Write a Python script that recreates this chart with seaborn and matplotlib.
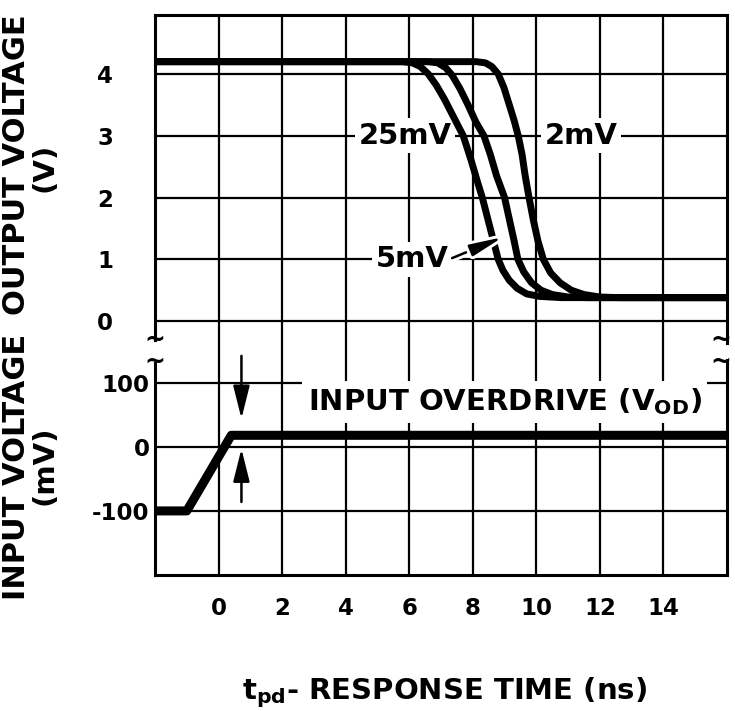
import numpy as np
import pandas as pd
import matplotlib
matplotlib.use("Agg")
import matplotlib.pyplot as plt
import matplotlib.patheffects as pe
import seaborn as sns

# ---------------- data ----------------
overdrives = ["25mV", "5mV", "2mV"]
t_25mv = [-2, 5.8, 6.1, 6.35, 6.6, 6.85, 7.1, 7.4, 7.7, 7.95, 8.15, 8.3, 8.45, 8.6, 8.8,
          8.95, 9.15, 9.4, 9.7, 10.1, 10.8, 16]
v_25mv = [4.2, 4.2, 4.18, 4.12, 4.0, 3.82, 3.6, 3.3, 3.0, 2.6, 2.25, 2.0, 1.7, 1.4, 1.0,
          0.82, 0.66, 0.53, 0.44, 0.4, 0.38, 0.38]
t_5mv = [-2, 6.6, 6.9, 7.15, 7.35, 7.6, 7.85, 8.1, 8.35, 8.55, 8.75, 9.0, 9.15, 9.3, 9.42,
         9.6, 9.85, 10.15, 10.5, 11.0, 11.6, 16]
v_5mv = [4.2, 4.2, 4.18, 4.1, 3.98, 3.76, 3.5, 3.22, 3.0, 2.7, 2.35, 2.0, 1.65, 1.3, 1.0,
         0.8, 0.62, 0.5, 0.43, 0.39, 0.38, 0.38]
t_2mv = [-2, 8.1, 8.4, 8.6, 8.8, 8.98, 9.15, 9.3, 9.43, 9.55, 9.65, 9.77, 9.9, 10.05, 10.22,
         10.45, 10.75, 11.1, 11.5, 12.0, 12.6, 16]
v_2mv = [4.2, 4.2, 4.18, 4.12, 4.0, 3.78, 3.5, 3.25, 3.0, 2.7, 2.35, 2.0, 1.65, 1.3, 1.0,
         0.78, 0.62, 0.5, 0.43, 0.39, 0.38, 0.38]

t_input = [-2, -1.0, 0.4, 16]
v_input = [-100, -100, 18, 18]

x_ticks = [0, 2, 4, 6, 8, 10, 12, 14]
out_ticks = [0, 1, 2, 3, 4]
in_ticks = [-100, 0, 100]

# ---------------- style ----------------
sns.set_theme(style="white")
plt.rcParams["font.family"] = ["DejaVu Sans"]
plt.rcParams["font.weight"] = "bold"
plt.rcParams["mathtext.default"] = "bf"
plt.rcParams["axes.unicode_minus"] = False
for k in ("text.color", "axes.labelcolor", "xtick.color", "ytick.color"):
    plt.rcParams[k] = "black"

fig = plt.figure(figsize=(7.35, 7.11), dpi=100)
L, W = 155 / 735, 572 / 735
ax_top = fig.add_axes([L, 1 - 352 / 711, W, (352 - 15) / 711])
ax_bot = fig.add_axes([L, 1 - 575 / 711, W, (575 - 352) / 711])

df_out = pd.concat([
    pd.DataFrame({"t": t_25mv, "v": v_25mv, "od": "25mV"}),
    pd.DataFrame({"t": t_5mv, "v": v_5mv, "od": "5mV"}),
    pd.DataFrame({"t": t_2mv, "v": v_2mv, "od": "2mV"}),
], ignore_index=True)
df_in = pd.DataFrame({"t": t_input, "v": v_input})

sns.lineplot(data=df_out, x="t", y="v", hue="od", hue_order=overdrives,
             palette=["black"] * 3, estimator=None, sort=False, lw=5,
             legend=False, ax=ax_top, zorder=4,
             solid_joinstyle="round", solid_capstyle="butt")
sns.lineplot(data=df_in, x="t", y="v", color="black", estimator=None,
             sort=False, lw=6.5, legend=False, ax=ax_bot, zorder=4,
             solid_joinstyle="round", solid_capstyle="butt")

for ax in (ax_top, ax_bot):
    ax.set_xlim(-2, 16)
    ax.set_xticks(x_ticks)
    ax.set_axisbelow(True)
    ax.grid(True, color="black", lw=1.6)
    ax.set_xlabel("")
    ax.set_ylabel("")
    for s in ax.spines.values():
        s.set_color("black")
        s.set_linewidth(2.2)
    ax.tick_params(length=0, labelsize=16.5, colors="black")

ax_top.set_ylim(-0.5, 4.955)
ax_top.set_yticks(out_ticks)
ax_top.tick_params(axis="y", pad=30)
ax_top.tick_params(axis="x", labelbottom=False)
ax_top.spines["bottom"].set_visible(False)
ax_top.spines["left"].set_bounds(-0.31, 4.955)
ax_top.spines["right"].set_bounds(-0.36, 4.955)

ax_bot.set_ylim(-200, 148)
ax_bot.set_yticks(in_ticks)
ax_bot.tick_params(axis="y", pad=4)
ax_bot.tick_params(axis="x", pad=16)
ax_bot.spines["top"].set_visible(False)
ax_bot.spines["left"].set_bounds(-200, 131)
ax_bot.spines["right"].set_bounds(-200, 136)

# break marks
for ax, yf in ((ax_top, 0.036), (ax_bot, 0.955)):
    for xf in (0.0, 0.99):
        ax.text(xf, yf, "~", transform=ax.transAxes, ha="center", va="center",
                fontsize=18, fontweight="bold", color="black", clip_on=False)

# curve labels
box = dict(boxstyle="square,pad=0.12", fc="white", ec="none")
ax_top.text(5.88, 3.0, "25mV", fontsize=21, ha="center", va="center", bbox=box, zorder=3)
ax_top.text(11.4, 3.0, "2mV", fontsize=21, ha="center", va="center", bbox=box, zorder=3)
ax_top.text(6.1, 1.0, "5mV", fontsize=21, ha="center", va="center", bbox=box, zorder=3)
ax_top.annotate("", xy=(8.95, 1.36), xytext=(7.35, 1.02),
                arrowprops=dict(arrowstyle="-|>,head_length=1.0,head_width=0.18",
                                color="black", lw=1.8, mutation_scale=20,
                                shrinkA=0, shrinkB=0,
                                path_effects=[pe.withStroke(linewidth=6, foreground="white")]),
                zorder=6)

ax_bot.text(9.0, 70, "INPUT OVERDRIVE (V$_{OD}$)", fontsize=21, ha="center",
            va="center", bbox=dict(boxstyle="square,pad=0.2", fc="white", ec="none"), zorder=3)
arrow_kw = dict(arrowstyle="-|>,head_length=1.0,head_width=0.25", color="black",
                lw=1.8, mutation_scale=20, shrinkA=0, shrinkB=0)
ax_bot.annotate("", xy=(0.72, 44), xytext=(0.72, 142), arrowprops=arrow_kw, zorder=6)
ax_bot.annotate("", xy=(0.72, -3), xytext=(0.72, -86), arrowprops=arrow_kw, zorder=6)

# axis titles
fig.text(17 / 735, 1 - 165 / 711, "OUTPUT VOLTAGE", rotation=90, ha="center",
         va="center", fontsize=22)
fig.text(45 / 735, 1 - 167 / 711, "(V)", rotation=90, ha="center", va="center", fontsize=21)
fig.text(17 / 735, 1 - 467 / 711, "INPUT VOLTAGE", rotation=90, ha="center",
         va="center", fontsize=22)
fig.text(45 / 735, 1 - 465 / 711, "(mV)", rotation=90, ha="center", va="center", fontsize=21)
fig.text(445 / 735, 1 - 693 / 711, "t$_{pd}$- RESPONSE TIME (ns)", ha="center",
         va="center", fontsize=21)

fig.savefig("out.png", dpi=100)
